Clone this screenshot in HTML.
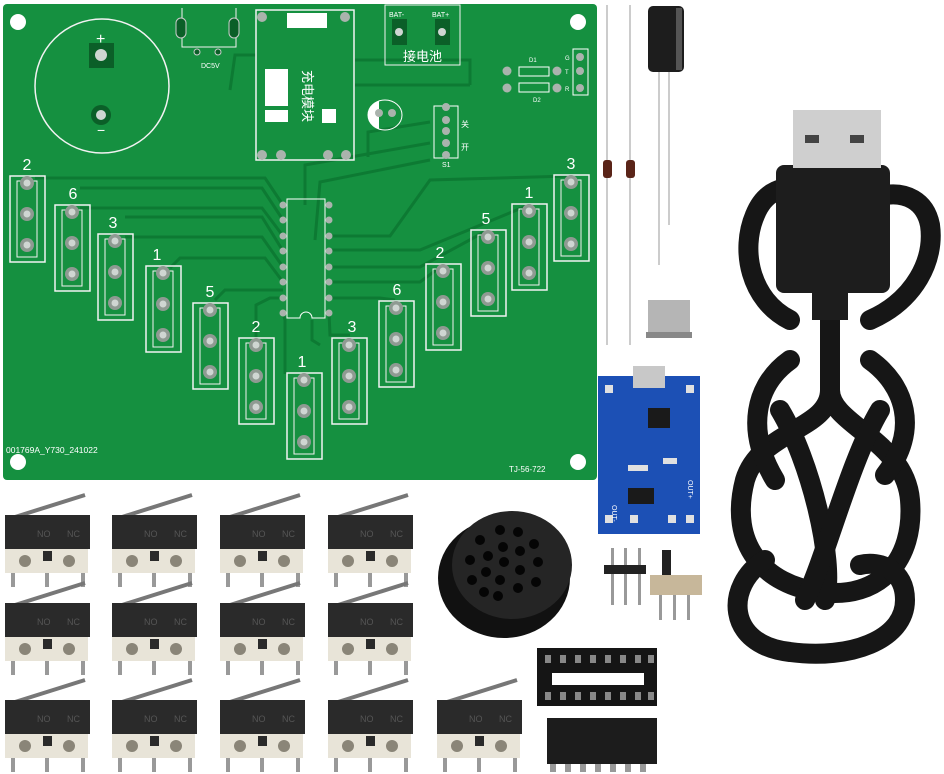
<!DOCTYPE html>
<html><head><meta charset="utf-8"><style>
html,body{margin:0;padding:0;background:#fff;}
svg{display:block}
text{font-family:"Liberation Sans","Noto Sans CJK SC",sans-serif;}
</style></head><body>
<svg width="944" height="774" viewBox="0 0 944 774" xmlns="http://www.w3.org/2000/svg">
<defs>
<g id="col">
  <rect x="-17" y="-7" width="35" height="86" fill="none" stroke="#f2f2f2" stroke-width="1.5"/>
  <rect x="-10" y="-2" width="20" height="76" fill="none" stroke="#f2f2f2" stroke-width="1"/>
  <circle cx="0" cy="0" r="7" fill="#8f9a92"/><circle cx="0" cy="0" r="3.5" fill="#cfd6d2"/>
  <circle cx="0" cy="31" r="7" fill="#8f9a92"/><circle cx="0" cy="31" r="3.5" fill="#cfd6d2"/>
  <circle cx="0" cy="62" r="7" fill="#8f9a92"/><circle cx="0" cy="62" r="3.5" fill="#cfd6d2"/>
</g>
<g id="sw">
  <line x1="10" y1="2" x2="80" y2="-20" stroke="#777" stroke-width="4"/>
  <rect x="0" y="0" width="85" height="34" fill="#2a2a2a"/>
  <text x="32" y="22" font-size="9" fill="#555">NO</text><text x="62" y="22" font-size="9" fill="#555">NC</text>
  <rect x="0" y="34" width="83" height="24" fill="#e8e4d8"/>
  <circle cx="20" cy="46" r="6" fill="#8a8578"/><circle cx="64" cy="46" r="6" fill="#8a8578"/>
  <rect x="38" y="36" width="9" height="10" fill="#2a2a2a"/>
  <rect x="6" y="58" width="4" height="14" fill="#999"/><rect x="40" y="58" width="4" height="14" fill="#999"/><rect x="76" y="58" width="4" height="14" fill="#999"/>
</g>
</defs>

<!-- PCB -->
<rect x="3" y="4" width="594" height="476" fill="#159040" rx="4"/>
<g fill="#fff"><circle cx="18" cy="22" r="8"/><circle cx="578" cy="22" r="8"/><circle cx="18" cy="462" r="8"/><circle cx="578" cy="462" r="8"/></g>
<!-- traces -->
<g fill="none" stroke="#0d7a33" stroke-width="3">
  <path d="M35 178 H265 L283 205"/><path d="M80 188 H262 L283 220"/><path d="M80 208 H262 L283 236"/>
  <path d="M125 217 H262 L283 251"/><path d="M125 237 H262 L283 267"/><path d="M170 268 L180 258 H265 L283 282"/>
  <path d="M215 300 L225 290 H283"/><path d="M256 338 V305 L270 298 H283"/><path d="M285 374 V320 L283 313"/>
  <path d="M320 345 L312 340 V320"/><path d="M350 335 H330 L329 313"/><path d="M395 300 L380 298 H329"/>
  <path d="M443 265 L420 282 H329"/><path d="M488 230 L420 267 H329"/><path d="M529 205 L420 250 H329"/>
  <path d="M570 176 L430 180 L390 236 H329"/><path d="M430 160 L320 182 L315 240"/><path d="M430 143 L305 165 V205"/>
  <path d="M256 55 H235 L230 90"/><path d="M355 60 H470 V85"/><path d="M355 85 H470"/><path d="M368 157 V132 L430 122"/>
</g>
<!-- battery circle -->
<circle cx="102" cy="86" r="67" fill="none" stroke="#f2f2f2" stroke-width="1.5"/>
<rect x="89" y="43" width="25" height="25" fill="#0b5f28"/><circle cx="101" cy="55" r="6" fill="#cfd6d2"/>
<circle cx="101" cy="115" r="10" fill="#0b5f28"/><circle cx="101" cy="115" r="5" fill="#cfd6d2"/>
<text x="96" y="44" font-size="16" fill="#fff">+</text><text x="97" y="135" font-size="14" fill="#fff">−</text>
<!-- DC5V -->
<path d="M182 8 V47 H236 V8" fill="none" stroke="#f2f2f2"/>
<rect x="176" y="18" width="10" height="20" rx="5" fill="#0b5f28" stroke="#ccc"/><rect x="229" y="18" width="10" height="20" rx="5" fill="#0b5f28" stroke="#ccc"/>
<circle cx="197" cy="52" r="3" fill="#0b5f28" stroke="#ccc"/><circle cx="218" cy="52" r="3" fill="#0b5f28" stroke="#ccc"/>
<text x="201" y="68" font-size="7" fill="#fff">DC5V</text>
<!-- charge module -->
<rect x="256" y="10" width="98" height="150" fill="none" stroke="#f2f2f2" stroke-width="1.5"/>
<rect x="287" y="13" width="40" height="15" fill="#fff"/>
<rect x="265" y="69" width="23" height="37" fill="#fff"/><rect x="265" y="110" width="23" height="12" fill="#fff"/><rect x="322" y="109" width="14" height="14" fill="#fff"/>
<text x="308" y="96" font-size="13" fill="#fff" text-anchor="middle" transform="rotate(90 308 96)" dy="5">充电模块</text>
<g fill="#aab3ad"><circle cx="262" cy="17" r="5"/><circle cx="345" cy="17" r="5"/><circle cx="262" cy="155" r="5"/><circle cx="281" cy="155" r="5"/><circle cx="328" cy="155" r="5"/><circle cx="346" cy="155" r="5"/></g>
<!-- battery connector -->
<rect x="385" y="5" width="75" height="60" fill="none" stroke="#f2f2f2"/>
<text x="389" y="17" font-size="7" fill="#fff">BAT-</text><text x="432" y="17" font-size="7" fill="#fff">BAT+</text>
<rect x="392" y="19" width="15" height="26" fill="#0b5f28"/><rect x="435" y="19" width="15" height="26" fill="#0b5f28"/>
<circle cx="399" cy="32" r="4" fill="#cfd6d2"/><circle cx="442" cy="32" r="4" fill="#cfd6d2"/>
<text x="403" y="61" font-size="13" fill="#fff">接电池</text>
<!-- D1 D2 -->
<rect x="519" y="67" width="30" height="9" fill="none" stroke="#fff"/><rect x="519" y="83" width="30" height="9" fill="none" stroke="#fff"/>
<g fill="#aab3ad"><circle cx="507" cy="71" r="4.5"/><circle cx="557" cy="71" r="4.5"/><circle cx="507" cy="88" r="4.5"/><circle cx="557" cy="88" r="4.5"/><circle cx="580" cy="57" r="4"/><circle cx="580" cy="71" r="4"/><circle cx="580" cy="88" r="4"/></g>
<rect x="573" y="49" width="15" height="46" fill="none" stroke="#fff"/>
<text x="529" y="62" font-size="6" fill="#fff">D1</text><text x="533" y="102" font-size="6" fill="#fff">D2</text>
<text x="565" y="60" font-size="6" fill="#fff">G</text><text x="565" y="74" font-size="6" fill="#fff">T</text><text x="565" y="91" font-size="6" fill="#fff">R</text>
<!-- C1 -->
<ellipse cx="385" cy="115" rx="17" ry="15" fill="none" stroke="#fff"/><path d="M379 101 A17 15 0 0 0 379 129 Z" fill="#fff"/>
<circle cx="379" cy="113" r="4" fill="#aab3ad"/><circle cx="392" cy="113" r="4" fill="#aab3ad"/>
<!-- S1 -->
<rect x="434" y="106" width="24" height="52" fill="none" stroke="#fff"/>
<g fill="#aab3ad"><circle cx="446" cy="107" r="4"/><circle cx="446" cy="120" r="4"/><circle cx="446" cy="131" r="4"/><circle cx="446" cy="143" r="4"/><circle cx="446" cy="155" r="4"/></g>
<text x="461" y="127" font-size="8" fill="#fff">关</text><text x="461" y="150" font-size="8" fill="#fff">开</text><text x="442" y="167" font-size="7" fill="#fff">S1</text>
<!-- IC footprint -->
<path d="M287 199 V318 H300 A6 6 0 0 1 312 318 H325 V199 Z" fill="none" stroke="#fff"/>
<g fill="#aab3ad">
<circle cx="283" cy="205" r="3.5"/><circle cx="283" cy="220" r="3.5"/><circle cx="283" cy="236" r="3.5"/><circle cx="283" cy="251" r="3.5"/><circle cx="283" cy="267" r="3.5"/><circle cx="283" cy="282" r="3.5"/><circle cx="283" cy="298" r="3.5"/><circle cx="283" cy="313" r="3.5"/>
<circle cx="329" cy="205" r="3.5"/><circle cx="329" cy="220" r="3.5"/><circle cx="329" cy="236" r="3.5"/><circle cx="329" cy="251" r="3.5"/><circle cx="329" cy="267" r="3.5"/><circle cx="329" cy="282" r="3.5"/><circle cx="329" cy="298" r="3.5"/><circle cx="329" cy="313" r="3.5"/>
</g>
<!-- key columns -->
<use href="#col" x="27" y="183"/><use href="#col" x="72" y="212"/><use href="#col" x="115" y="241"/><use href="#col" x="163" y="273"/>
<use href="#col" x="210" y="310"/><use href="#col" x="256" y="345"/><use href="#col" x="304" y="380"/><use href="#col" x="349" y="345"/>
<use href="#col" x="396" y="308"/><use href="#col" x="443" y="271"/><use href="#col" x="488" y="237"/><use href="#col" x="529" y="211"/><use href="#col" x="571" y="182"/>
<g font-size="16" fill="#fff" text-anchor="middle">
<text x="27" y="170">2</text><text x="73" y="199">6</text><text x="113" y="228">3</text><text x="157" y="260">1</text>
<text x="210" y="297">5</text><text x="256" y="332">2</text><text x="302" y="367">1</text><text x="352" y="332">3</text>
<text x="397" y="295">6</text><text x="440" y="258">2</text><text x="486" y="224">5</text><text x="529" y="198">1</text><text x="571" y="169">3</text>
</g>
<text x="6" y="453" font-size="8.5" fill="#fff" font-family="Liberation Mono">001769A_Y730_241022</text>
<text x="509" y="472" font-size="8" fill="#fff">TJ-56-722</text>

<!-- loose parts right of PCB -->
<line x1="607" y1="5" x2="607" y2="345" stroke="#bbb" stroke-width="1.5"/><line x1="630" y1="5" x2="630" y2="345" stroke="#bbb" stroke-width="1.5"/>
<rect x="603" y="160" width="9" height="18" rx="3" fill="#5a2418"/><rect x="626" y="160" width="9" height="18" rx="3" fill="#5a2418"/>
<line x1="659" y1="60" x2="659" y2="265" stroke="#bbb" stroke-width="1.5"/><line x1="669" y1="60" x2="669" y2="225" stroke="#bbb" stroke-width="1.5"/>
<rect x="648" y="6" width="36" height="66" rx="5" fill="#1d1d1d"/>
<rect x="676" y="8" width="6" height="62" fill="#555"/>
<!-- USB-C -->
<rect x="648" y="300" width="42" height="36" fill="#b5b5b5"/><rect x="646" y="332" width="46" height="6" fill="#888"/>
<!-- blue module -->
<rect x="598" y="376" width="102" height="158" fill="#1c50b5"/>
<rect x="633" y="366" width="32" height="22" fill="#c8c8c8"/>
<rect x="648" y="408" width="22" height="20" fill="#1a1a1a"/><rect x="628" y="488" width="26" height="16" fill="#1a1a1a"/>
<g fill="#e0e0e0"><rect x="605" y="385" width="8" height="8"/><rect x="686" y="385" width="8" height="8"/><rect x="605" y="515" width="8" height="8"/><rect x="630" y="515" width="8" height="8"/><rect x="668" y="515" width="8" height="8"/><rect x="686" y="515" width="8" height="8"/><rect x="628" y="465" width="20" height="6"/><rect x="663" y="458" width="14" height="6"/></g>
<text x="612" y="505" font-size="7" fill="#fff" transform="rotate(90 612 505)">OUT-</text>
<text x="688" y="480" font-size="7" fill="#fff" transform="rotate(90 688 480)">OUT+</text>
<!-- header pins / slide switch -->
<g fill="#999"><rect x="611" y="548" width="3" height="57"/><rect x="624" y="548" width="3" height="57"/><rect x="638" y="548" width="3" height="57"/></g>
<rect x="604" y="565" width="42" height="9" fill="#222"/>
<rect x="662" y="550" width="9" height="30" fill="#222"/>
<rect x="650" y="575" width="52" height="20" fill="#c7b79a"/>
<g fill="#999"><rect x="659" y="595" width="3" height="25"/><rect x="673" y="595" width="3" height="25"/><rect x="687" y="595" width="3" height="25"/></g>

<!-- speaker -->
<ellipse cx="504" cy="578" rx="66" ry="60" fill="#111"/>
<ellipse cx="512" cy="565" rx="60" ry="54" fill="#252525"/>
<g fill="#050505">
<circle cx="500" cy="530" r="5"/><circle cx="518" cy="532" r="5"/><circle cx="480" cy="540" r="5"/><circle cx="534" cy="544" r="5"/>
<circle cx="503" cy="547" r="5"/><circle cx="520" cy="551" r="5"/><circle cx="488" cy="556" r="5"/><circle cx="470" cy="560" r="5"/>
<circle cx="538" cy="562" r="5"/><circle cx="504" cy="562" r="5"/><circle cx="520" cy="570" r="5"/><circle cx="486" cy="572" r="5"/>
<circle cx="472" cy="580" r="5"/><circle cx="536" cy="582" r="5"/><circle cx="500" cy="580" r="5"/><circle cx="518" cy="588" r="5"/>
<circle cx="498" cy="596" r="5"/><circle cx="484" cy="592" r="5"/>
</g>

<!-- IC socket and chip -->
<rect x="537" y="648" width="120" height="58" fill="#151515"/>
<rect x="552" y="673" width="92" height="12" fill="#fff"/>
<g fill="#888"><rect x="545" y="655" width="6" height="8"/><rect x="560" y="655" width="6" height="8"/><rect x="575" y="655" width="6" height="8"/><rect x="590" y="655" width="6" height="8"/><rect x="605" y="655" width="6" height="8"/><rect x="620" y="655" width="6" height="8"/><rect x="635" y="655" width="6" height="8"/><rect x="648" y="655" width="6" height="8"/>
<rect x="545" y="692" width="6" height="8"/><rect x="560" y="692" width="6" height="8"/><rect x="575" y="692" width="6" height="8"/><rect x="590" y="692" width="6" height="8"/><rect x="605" y="692" width="6" height="8"/><rect x="620" y="692" width="6" height="8"/><rect x="635" y="692" width="6" height="8"/><rect x="648" y="692" width="6" height="8"/></g>
<rect x="547" y="718" width="110" height="46" fill="#1c1c1c"/>
<g fill="#999"><rect x="550" y="764" width="6" height="8"/><rect x="565" y="764" width="6" height="8"/><rect x="580" y="764" width="6" height="8"/><rect x="595" y="764" width="6" height="8"/><rect x="610" y="764" width="6" height="8"/><rect x="625" y="764" width="6" height="8"/><rect x="640" y="764" width="6" height="8"/></g>

<!-- microswitches -->
<use href="#sw" x="5" y="515"/><use href="#sw" x="112" y="515"/><use href="#sw" x="220" y="515"/><use href="#sw" x="328" y="515"/>
<use href="#sw" x="5" y="603"/><use href="#sw" x="112" y="603"/><use href="#sw" x="220" y="603"/><use href="#sw" x="328" y="603"/>
<use href="#sw" x="5" y="700"/><use href="#sw" x="112" y="700"/><use href="#sw" x="220" y="700"/><use href="#sw" x="328" y="700"/><use href="#sw" x="437" y="700"/>

<!-- USB cable -->
<g fill="none" stroke="#161616" stroke-width="20" stroke-linecap="round">
<path d="M790 320 C750 300 740 250 755 215 C765 190 785 185 800 190"/>
<path d="M870 320 C915 300 935 260 930 225 C925 200 905 192 885 195"/>
<path d="M830 300 V390 C830 430 760 430 745 480 C728 545 765 585 820 592 C880 600 915 560 910 500 C905 440 830 425 830 390"/>
<path d="M790 360 C755 385 745 430 775 480"/>
<path d="M870 360 C905 385 920 430 885 475"/>
<path d="M765 560 C725 585 725 645 790 652 C850 660 905 640 905 600 C905 570 880 560 860 565"/>
<path d="M780 410 C810 460 835 560 825 600"/>
<path d="M880 410 C850 460 825 560 805 600"/>
</g>
<rect x="776" y="165" width="114" height="128" rx="8" fill="#1d1d1d"/>
<rect x="793" y="110" width="88" height="58" fill="#cfcfcf"/>
<rect x="805" y="135" width="14" height="8" fill="#444"/><rect x="850" y="135" width="14" height="8" fill="#444"/>
<rect x="812" y="290" width="36" height="30" fill="#1d1d1d"/>
</svg>
</body></html>
